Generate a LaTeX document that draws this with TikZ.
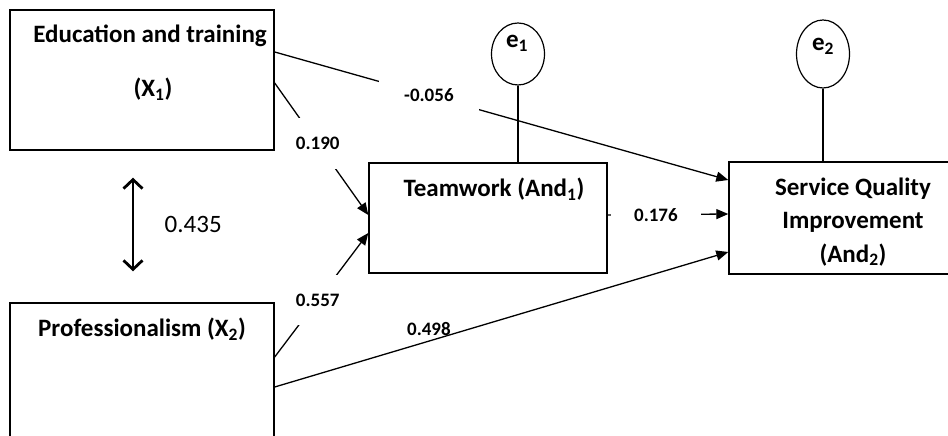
\documentclass[tikz,border=0pt]{standalone}
\usepackage{fontspec}
\setmainfont{Carlito}
\usepackage{tikz}
\usetikzlibrary{positioning,shapes,arrows,arrows.meta}

\begin{document}
\begin{tikzpicture}[x=1pt, y=1pt, node distance=2cm]
    \tikzstyle{construct} = [rectangle, draw, line width=1.4pt, minimum width=264pt, minimum height=140pt]
    \tikzstyle{mediator} = [rectangle, draw, line width=1.4pt, minimum width=238pt, minimum height=110pt]
    \tikzstyle{residual} = [ellipse, draw, line width=1.2pt, minimum width=53pt, minimum height=62pt]
    \tikzstyle{heading} = [font=\bfseries\fontsize{25}{33.5}\selectfont, align=center, inner sep=0pt]
    \tikzstyle{coef} = [font=\bfseries\fontsize{19}{21}\selectfont, fill=white, inner sep=2pt]
    \tikzstyle{arrowline} = [line width=1.3pt, -{Triangle[length=12pt, width=10pt]}]
    \tikzstyle{corr} = [line width=2.8pt, {Straight Barb[length=9pt, width=19pt]}-{Straight Barb[length=9pt, width=19pt]}]

    \useasboundingbox (0,0) rectangle (948,436);
    \clip (0,0) rectangle (948,436);

    \node [construct] (edu) at (142,356) {};
    \node [construct, node distance=293pt, below of=edu] (prof) {};
    \node [mediator] (team) at (488,218) {};
    \node [mediator, node distance=353pt, right of=team, minimum width=224pt, minimum height=112pt] (sqi) {};
    \node [residual, node distance=164pt, above of=team, xshift=30pt] (e1) {};
    \node [residual, node distance=164pt, above of=sqi, xshift=-18pt, minimum height=68pt] (e2) {};

    \node [heading] (edutitle) at ([xshift=8pt, yshift=-27pt]edu.north) {Education and training};
    \node [heading] (edusym) at ([xshift=11pt, yshift=-80pt]edu.north) {(X\textsubscript{1})};
    \node [heading] (proftitle) at ([yshift=-27pt]prof.north) {Professionalism (X\textsubscript{2})};
    \node [heading] (teamtitle) at ([xshift=6pt, yshift=-27pt]team.north) {Teamwork (And\textsubscript{1})};
    \node [heading] (sqititle) at ([xshift=12pt, yshift=-60.5pt]sqi.north) {Service Quality\\Improvement\\(And\textsubscript{2})};
    \node [heading] (e1txt) at ([xshift=-1pt, yshift=11pt]e1.center) {e\textsubscript{1}};
    \node [heading] (e2txt) at ([yshift=8pt]e2.center) {e\textsubscript{2}};

    \draw [line width=1.2pt] (e1) -- (e1 |- team.north);
    \draw [line width=1.2pt] (e2) -- (e2 |- sqi.north);

    \draw [arrowline] ([yshift=28pt]edu.east) -- node[coef, pos=0.34, minimum width=100pt, minimum height=34pt] (c1) {-0.056} ([yshift=38pt]sqi.west);
    \draw [arrowline] ([yshift=-3pt]edu.east) -- node[coef, pos=0.46, minimum height=51pt] (c2) {0.190} ([yshift=3pt]team.west);
    \draw [arrowline] ([yshift=16pt]prof.east) -- node[coef, pos=0.46, minimum height=50pt] (c3) {0.557} ([yshift=-15pt]team.west);
    \draw [arrowline] ([yshift=-14pt]prof.east) -- node[coef, fill=none, pos=0.34, yshift=12pt] (c4) {0.498} ([yshift=-34pt]sqi.west);
    \draw [arrowline] ([yshift=3pt]team.east) -- node[coef, pos=0.4, minimum width=90pt] (c5) {0.176} ([yshift=4pt]sqi.west);

    \draw [corr] ([xshift=-9pt, yshift=-27pt]edu.south) -- node[right, xshift=27pt, font=\fontsize{25}{28}\selectfont] (r) {0.435} ([xshift=-9pt, yshift=31pt]prof.north);
\end{tikzpicture}
\end{document}
